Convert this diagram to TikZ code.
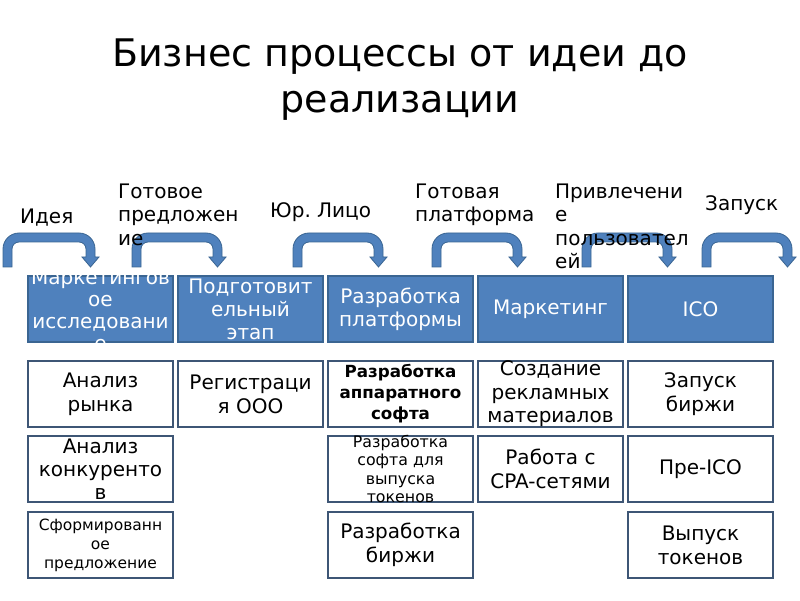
\documentclass[tikz,border=0pt]{standalone}
\usepackage{fontspec}
\setmainfont{DejaVu Sans}
\usepackage{xcolor}
\usepackage{tikz}
\frenchspacing
\definecolor{sblue}{HTML}{4F81BD}
\definecolor{sedge}{HTML}{3A6592}
\definecolor{tedge}{HTML}{3E5675}
\newcommand{\bentarrow}[2]{%
    \filldraw[fill=sblue, draw=sedge, line width=0.8pt] (#1,333) -- (#1,351) arc[start angle=180, end angle=90, radius=16]
        -- ({#2-16},367) arc[start angle=90, end angle=0, radius=16] -- (#2,343) -- ({#2+4},343) -- ({#2-4.5},333)
        -- ({#2-13},343) -- ({#2-9},343) -- ({#2-9},351) arc[start angle=0, end angle=90, radius=7]
        -- ({#1+16},358) arc[start angle=90, end angle=180, radius=7] -- ({#1+9},333) -- cycle;}
\tikzset{
    stage/.style={draw=sedge, fill=sblue, line width=1.2pt, minimum width=145pt, minimum height=66pt, inner sep=0pt,
        text=white, align=center, font=\fontsize{20}{23}\selectfont},
    task/.style={draw=tedge, fill=white, line width=2pt, minimum width=145pt, minimum height=66pt, inner sep=0pt,
        align=center, font=\fontsize{20}{24}\selectfont},
    tag/.style={anchor=north west, inner sep=0pt, align=left, font=\fontsize{20}{23.5}\selectfont},
}

\begin{document}
\begin{tikzpicture}[x=1pt, y=1pt]
        \useasboundingbox (0,0) rectangle (800,600);
        \node[align=center, font=\fontsize{38}{46}\selectfont] (title) at (400,520) {Бизнес процессы от идеи до\\реализации};

        % stages
        \node[stage] (research) at (100.5,291) {};
        \node[text=white, align=center, inner sep=0pt, font=\fontsize{20}{22}\selectfont] (researchtxt) at ([yshift=-1]research.center) {Маркетингов\\ое\\исследовани\\е};
        \node[stage] (prep) at (250.5,291) {Подготовит\\ельный\\этап};
        \node[stage] (dev) at (400.5,291) {Разработка\\платформы};
        \node[stage] (mkt) at (550.5,291) {Маркетинг};
        \node[stage] (ico) at (700.5,291) {ICO};

        % tasks
        \node[task] (market) at (100.5,206) {Анализ\\рынка};
        \node[task, font=\fontsize{20}{23}\selectfont] (rivals) at (100.5,131) {Анализ\\конкуренто\\в};
        \node[task, font=\fontsize{15.5}{19}\selectfont] (offer) at (100.5,55) {Сформированн\\ое\\предложение};
        \node[task] (reg) at (250.5,206) {Регистраци\\я ООО};
        \node[task, font=\bfseries\fontsize{16.7}{21}\selectfont] (hw) at (400.5,206) {Разработка\\аппаратного\\софта};
        \node[task] (sw) at (400.5,131) {};
        \node[align=center, inner sep=0pt, font=\fontsize{15.8}{18.5}\selectfont] (swtxt) at (sw.center) {Разработка\\софта для\\выпуска\\токенов};
        \node[task] (exdev) at (400.5,55) {Разработка\\биржи};
        \node[task, font=\fontsize{20}{23.5}\selectfont] (ads) at (550.5,206) {Создание\\рекламных\\материалов};
        \node[task] (cpa) at (550.5,131) {Работа с\\CPA-сетями};
        \node[task] (exrun) at (700.5,206) {Запуск\\биржи};
        \node[task] (preico) at (700.5,131) {Пре-ICO};
        \node[task] (tokens) at (700.5,55) {Выпуск\\токенов};

        % arrows
        \bentarrow{3}{95}
        \bentarrow{132}{222}
        \bentarrow{293}{383}
        \bentarrow{432}{522}
        \bentarrow{582}{672}
        \bentarrow{702}{792}

        % labels
        \node[tag] (idea) at (20,391.6) {Идея};
        \node[tag] (ready) at (118,416.6) {Готовое\\предложен\\ие};
        \node[tag] (llc) at (270,397.6) {Юр. Лицо};
        \node[tag] (platform) at (415,416.6) {Готовая\\платформа};
        \node[tag] (users) at (555,416.6) {Привлечени\\е\\пользовател\\ей};
        \node[tag] (launch) at (705,404.6) {Запуск};
    \end{tikzpicture}
\end{document}
